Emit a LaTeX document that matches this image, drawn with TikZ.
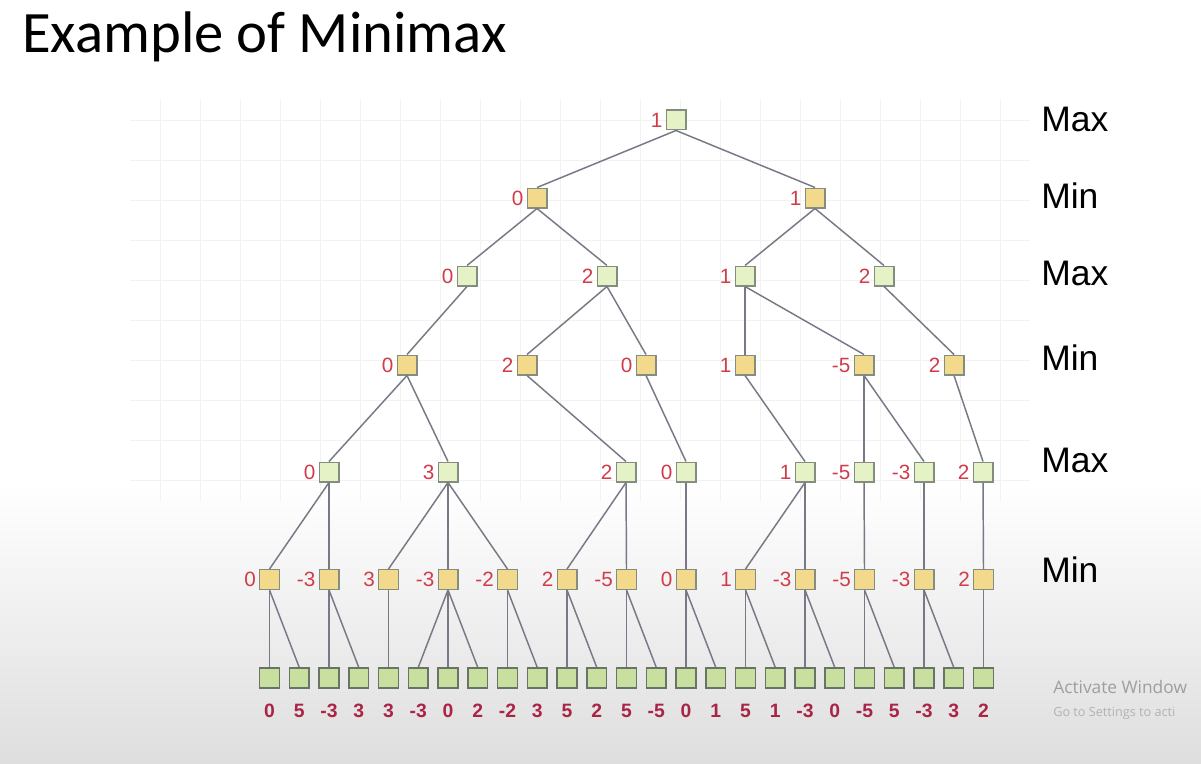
\documentclass[tikz,border=0pt]{standalone}
\usepackage{fontspec}
\setmainfont{Liberation Sans}
\newfontfamily\titlefont{Carlito}
\newfontfamily\winfont{Open Sans}
\usepackage{xcolor}
\usetikzlibrary{positioning}

\definecolor{maxfill}{RGB}{228,242,198}
\definecolor{minfill}{RGB}{242,217,140}
\definecolor{leaffill}{RGB}{201,223,160}
\definecolor{boxline}{RGB}{132,142,128}
\definecolor{leafline}{RGB}{104,116,102}
\definecolor{edgecol}{RGB}{120,120,134}
\definecolor{valred}{RGB}{208,60,74}
\definecolor{leafred}{RGB}{170,36,70}
\definecolor{shadegray}{RGB}{222,222,222}

\begin{document}
\begin{tikzpicture}[
  x=0.75pt, y=-0.75pt,
  box/.style={rectangle, draw=boxline, line width=1pt, minimum size=14.75pt, inner sep=0pt},
  maxnode/.style={box, fill=maxfill},
  minnode/.style={box, fill=minfill},
  leaf/.style={box, draw=leafline, line width=1.2pt, fill=leaffill},
  edge/.style={draw=edgecol, line width=1.1pt},
  val/.style={text=valred, font=\fontsize{15.5}{17}\selectfont, inner sep=1pt, label distance=1.2pt},
  leafval/.style={text=leafred, font=\bfseries\fontsize{14.5}{16}\selectfont, inner sep=0pt, label distance=11.6pt},
  level/.style={anchor=base west, inner sep=0pt, font=\fontsize{26.6}{30}\selectfont},
]
\useasboundingbox (0,0) rectangle (1201,763);
\clip (0,0) rectangle (1201,763);

% background
\fill[white] (0,0) rectangle (1201,763);
\shade[top color=white, bottom color=shadegray] (0,485) rectangle (1201,763);
\draw[black!5, line width=0.6pt, step=30pt] (130,100) grid (1030,500);

% title and levels
\node[anchor=base west, inner sep=0pt, font=\titlefont\fontsize{44}{50}\selectfont] (title) at (22,53) {Example of Minimax};
\node[level] (lv1) at (1041,132) {Max};
\node[level] (lv2) at (1041,208) {Min};
\node[level] (lv3) at (1041,285) {Max};
\node[level] (lv4) at (1041,370) {Min};
\node[level] (lv5) at (1041,472) {Max};
\node[level] (lv6) at (1041,582) {Min};

% max
\node[maxnode, label={[val]left:1}] (r) at (676,120) {};

% min
\node[minnode, label={[val]left:0}] (a) at (537,198) {};
\node[minnode, label={[val]left:1}] (b) at (815,198) {};

% max
\node[maxnode, label={[val]left:0}] (c1) at (467,276) {};
\node[maxnode, label={[val]left:2}] (c2) at (607,276) {};
\node[maxnode, label={[val]left:1}] (c3) at (745,276) {};
\node[maxnode, label={[val]left:2}] (c4) at (884,276) {};

% min
\node[minnode, label={[val]left:0}] (d1) at (407,365) {};
\node[minnode, label={[val]left:2}] (d2) at (527,365) {};
\node[minnode, label={[val]left:0}] (d3) at (646,365) {};
\node[minnode, label={[val]left:1}] (d4) at (745,365) {};
\node[minnode, label={[val]left:-5}] (d5) at (864,365) {};
\node[minnode, label={[val]left:2}] (d6) at (954,365) {};

% max
\node[maxnode, label={[val]left:0}] (e1) at (329,472) {};
\node[maxnode, label={[val]left:3}] (e2) at (448,472) {};
\node[maxnode, label={[val]left:2}] (e3) at (626,472) {};
\node[maxnode, label={[val]left:0}] (e4) at (686,472) {};
\node[maxnode, label={[val]left:1}] (e5) at (805,472) {};
\node[maxnode, label={[val]left:-5}] (e6) at (864,472) {};
\node[maxnode, label={[val]left:-3}] (e7) at (924,472) {};
\node[maxnode, label={[val]left:2}] (e8) at (983,472) {};

% min
\node[minnode, label={[val]left:0}] (f1) at (269.5,579.5) {};
\node[minnode, label={[val]left:-3}] (f2) at (329,579.5) {};
\node[minnode, label={[val]left:3}] (f3) at (388.5,579.5) {};
\node[minnode, label={[val]left:-3}] (f4) at (448,579.5) {};
\node[minnode, label={[val]left:-2}] (f5) at (507.5,579.5) {};
\node[minnode, label={[val]left:2}] (f6) at (567,579.5) {};
\node[minnode, label={[val]left:-5}] (f7) at (626.5,579.5) {};
\node[minnode, label={[val]left:0}] (f8) at (686,579.5) {};
\node[minnode, label={[val]left:1}] (f9) at (745.5,579.5) {};
\node[minnode, label={[val]left:-3}] (f10) at (805,579.5) {};
\node[minnode, label={[val]left:-5}] (f11) at (864.5,579.5) {};
\node[minnode, label={[val]left:-3}] (f12) at (924,579.5) {};
\node[minnode, label={[val]left:2}] (f13) at (983.5,579.5) {};

% leaves
\node[leaf, label={[leafval]below:0}] (l0) at (269.5,678) {};
\node[leaf, label={[leafval]below:5}] (l1) at (299.25,678) {};
\node[leaf, label={[leafval]below:-3}] (l2) at (329,678) {};
\node[leaf, label={[leafval]below:3}] (l3) at (358.75,678) {};
\node[leaf, label={[leafval]below:3}] (l4) at (388.5,678) {};
\node[leaf, label={[leafval]below:-3}] (l5) at (418.25,678) {};
\node[leaf, label={[leafval]below:0}] (l6) at (448,678) {};
\node[leaf, label={[leafval]below:2}] (l7) at (477.75,678) {};
\node[leaf, label={[leafval]below:-2}] (l8) at (507.5,678) {};
\node[leaf, label={[leafval]below:3}] (l9) at (537.25,678) {};
\node[leaf, label={[leafval]below:5}] (l10) at (567,678) {};
\node[leaf, label={[leafval]below:2}] (l11) at (596.75,678) {};
\node[leaf, label={[leafval]below:5}] (l12) at (626.5,678) {};
\node[leaf, label={[leafval]below:-5}] (l13) at (656.25,678) {};
\node[leaf, label={[leafval]below:0}] (l14) at (686,678) {};
\node[leaf, label={[leafval]below:1}] (l15) at (715.75,678) {};
\node[leaf, label={[leafval]below:5}] (l16) at (745.5,678) {};
\node[leaf, label={[leafval]below:1}] (l17) at (775.25,678) {};
\node[leaf, label={[leafval]below:-3}] (l18) at (805,678) {};
\node[leaf, label={[leafval]below:0}] (l19) at (834.75,678) {};
\node[leaf, label={[leafval]below:-5}] (l20) at (864.5,678) {};
\node[leaf, label={[leafval]below:5}] (l21) at (894.25,678) {};
\node[leaf, label={[leafval]below:-3}] (l22) at (924,678) {};
\node[leaf, label={[leafval]below:3}] (l23) at (953.75,678) {};
\node[leaf, label={[leafval]below:2}] (l24) at (983.5,678) {};

% edges
\draw[edge] (r.south) -- (a.north);
\draw[edge] (r.south) -- (b.north);
\draw[edge] (a.south) -- (c1.north);
\draw[edge] (a.south) -- (c2.north);
\draw[edge] (b.south) -- (c3.north);
\draw[edge] (b.south) -- (c4.north);
\draw[edge] (c1.south) -- (d1.north);
\draw[edge] (c2.south) -- (d2.north);
\draw[edge] (c2.south) -- (d3.north);
\draw[edge] (c3.south) -- (d4.north);
\draw[edge] (c3.south) -- (d5.north);
\draw[edge] (c4.south) -- (d6.north);
\draw[edge] (d1.south) -- (e1.north);
\draw[edge] (d1.south) -- (e2.north);
\draw[edge] (d2.south) -- (e3.north);
\draw[edge] (d3.south) -- (e4.north);
\draw[edge] (d4.south) -- (e5.north);
\draw[edge] (d5.south) -- (e6.north);
\draw[edge] (d5.south) -- (e7.north);
\draw[edge] (d6.south) -- (e8.north);
\draw[edge] (e1.south) -- (f1.north);
\draw[edge] (e1.south) -- (f2.north);
\draw[edge] (e2.south) -- (f3.north);
\draw[edge] (e2.south) -- (f4.north);
\draw[edge] (e2.south) -- (f5.north);
\draw[edge] (e3.south) -- (f6.north);
\draw[edge] (e3.south) -- (f7.north);
\draw[edge] (e4.south) -- (f8.north);
\draw[edge] (e5.south) -- (f9.north);
\draw[edge] (e5.south) -- (f10.north);
\draw[edge] (e6.south) -- (f11.north);
\draw[edge] (e7.south) -- (f12.north);
\draw[edge] (e8.south) -- (f13.north);
\draw[edge] (f1.south) -- (l0.north);
\draw[edge] (f1.south) -- (l1.north);
\draw[edge] (f2.south) -- (l2.north);
\draw[edge] (f2.south) -- (l3.north);
\draw[edge] (f3.south) -- (l4.north);
\draw[edge] (f4.south) -- (l5.north);
\draw[edge] (f4.south) -- (l6.north);
\draw[edge] (f4.south) -- (l7.north);
\draw[edge] (f5.south) -- (l8.north);
\draw[edge] (f5.south) -- (l9.north);
\draw[edge] (f6.south) -- (l10.north);
\draw[edge] (f6.south) -- (l11.north);
\draw[edge] (f7.south) -- (l12.north);
\draw[edge] (f7.south) -- (l13.north);
\draw[edge] (f8.south) -- (l14.north);
\draw[edge] (f8.south) -- (l15.north);
\draw[edge] (f9.south) -- (l16.north);
\draw[edge] (f9.south) -- (l17.north);
\draw[edge] (f10.south) -- (l18.north);
\draw[edge] (f10.south) -- (l19.north);
\draw[edge] (f11.south) -- (l20.north);
\draw[edge] (f11.south) -- (l21.north);
\draw[edge] (f12.south) -- (l22.north);
\draw[edge] (f12.south) -- (l23.north);
\draw[edge] (f13.south) -- (l24.north);

% watermark
\node[anchor=base west, inner sep=0pt, text=black!38, font=\winfont\fontsize{13}{15}\selectfont] (act) at (1053,693) {Activate Window};
\node[anchor=base west, inner sep=0pt, text=black!30, font=\winfont\fontsize{9.5}{11}\selectfont] (go) at (1053,716) {Go to Settings to acti};

\end{tikzpicture}
\end{document}
